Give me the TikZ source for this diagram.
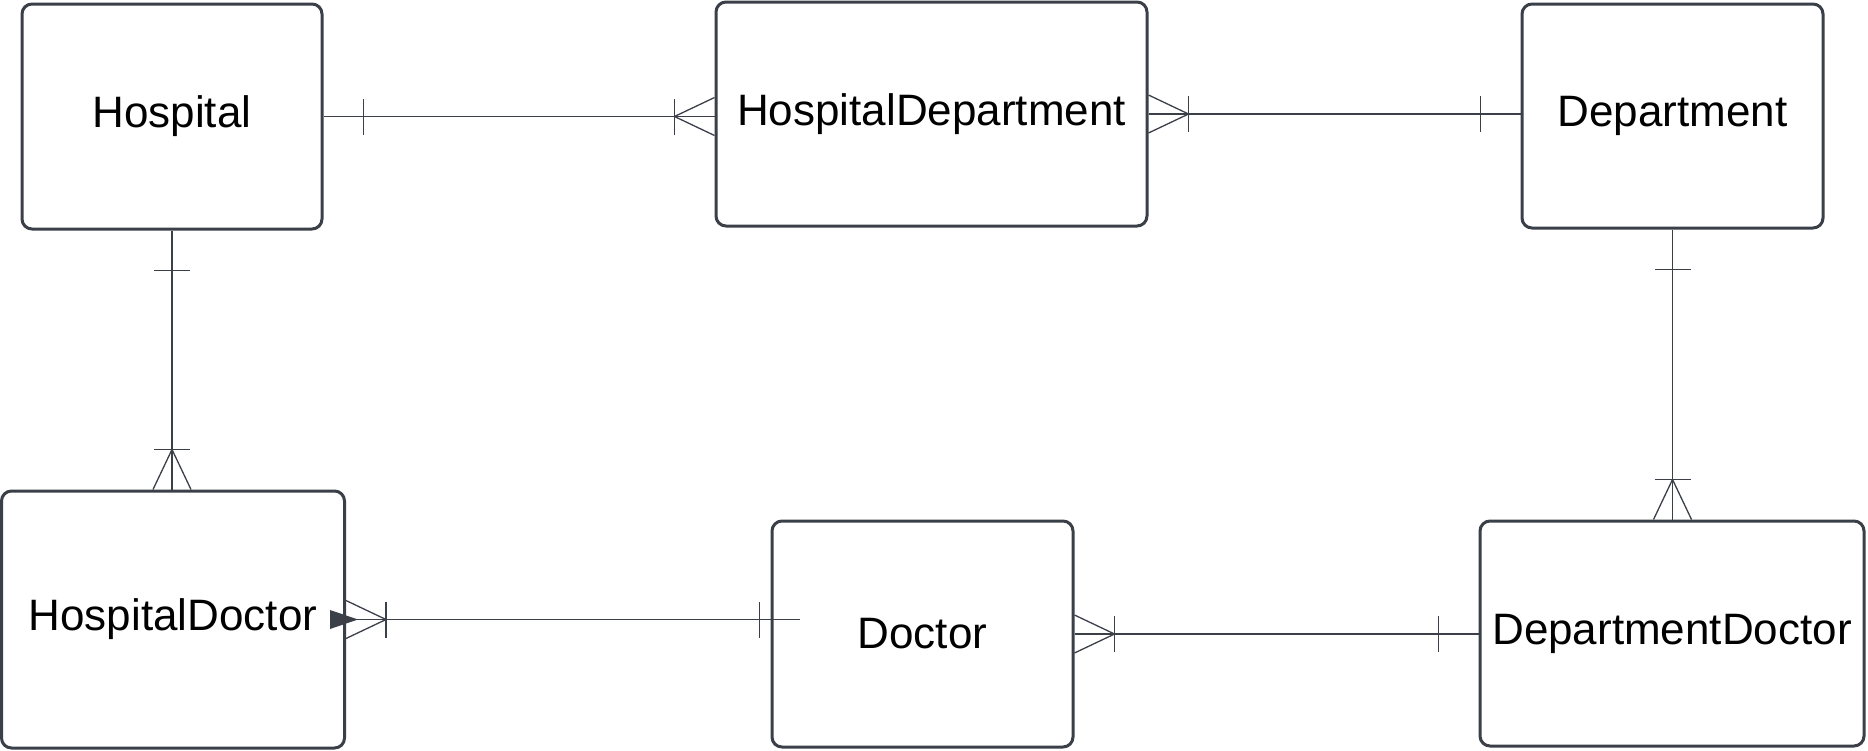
\documentclass[tikz,border=0pt]{standalone}
\usepackage{fontspec}
\setmainfont{Liberation Sans}
\usetikzlibrary{calc}
\definecolor{ln}{RGB}{59,63,72}
\begin{document}
\begin{tikzpicture}[x=1pt,y=-1pt,
  entity/.style={draw=ln, line width=3pt, rounded corners=10pt, inner sep=0pt,
    font=\fontsize{44}{52}\selectfont, text=black},
  conn/.style={draw=ln, line width=1.3pt},
  onemark/.pic={\draw[conn] (40,-18) -- (40,18);},
  manymark/.pic={\draw[conn] (40,-18) -- (40,18);
                 \draw[conn] (0,-19) -- (40,0) -- (0,19);}
]
\useasboundingbox (0,0) rectangle (1868,750);

% entities
\node[entity, minimum width=300pt, minimum height=225pt] (h)   at (172,116.5)  {Hospital};
\node[entity, minimum width=431pt, minimum height=224pt] (hd)  at (931.5,114)  {HospitalDepartment};
\node[entity, minimum width=301pt, minimum height=224pt] (dep) at (1672.5,116) {Department};
\node[entity, minimum width=343pt, minimum height=257pt] (hdoc) at (173,619.5) {HospitalDoctor};
\node[entity, minimum width=301pt, minimum height=226pt] (doc) at (922.5,634)  {Doctor};
\node[entity, minimum width=384pt, minimum height=225pt] (dd)  at (1672,633.5) {DepartmentDoctor};

% connection points
\coordinate (hdL) at (h.east -| hd.west);
\coordinate (depL) at (hd.east -| dep.west);
\coordinate (hdocT) at (h.south |- hdoc.north);
\coordinate (ddT) at (dep.south |- dd.north);
\coordinate (docin) at ($(doc.west)+(29,0)$);
\coordinate (docL) at (hdoc.east -| docin);
\coordinate (ddL) at (doc.east -| dd.west);

% connectors
\draw[conn] (h.east) -- (hdL);
\draw[conn] (hd.east) -- (depL);
\draw[conn] (h.south) -- (hdocT);
\draw[conn] (dep.south) -- (ddT);
\draw[conn] (hdoc.east) -- (docL);
\draw[conn] (doc.east) -- (ddL);

% cardinality marks
\pic at (h.east) {onemark};
\pic[rotate=180] at (hdL) {manymark};
\pic at (hd.east) {manymark};
\pic[rotate=180] at (depL) {onemark};
\pic[rotate=-90] at (h.south) {onemark};
\pic[rotate=90] at (hdocT) {manymark};
\pic[rotate=-90] at (dep.south) {onemark};
\pic[rotate=90] at (ddT) {manymark};
\pic at (hdoc.east) {manymark};
\pic[rotate=180] at (docL) {onemark};
\pic at (doc.east) {manymark};
\pic[rotate=180] at (ddL) {onemark};

% filled triangle
\fill[ln] ($(hdoc.east)+(-16,-9.5)$) -- ($(hdoc.east)+(-16,9.5)$) -- ($(hdoc.east)+(12,0)$) -- cycle;
\end{tikzpicture}
\end{document}
